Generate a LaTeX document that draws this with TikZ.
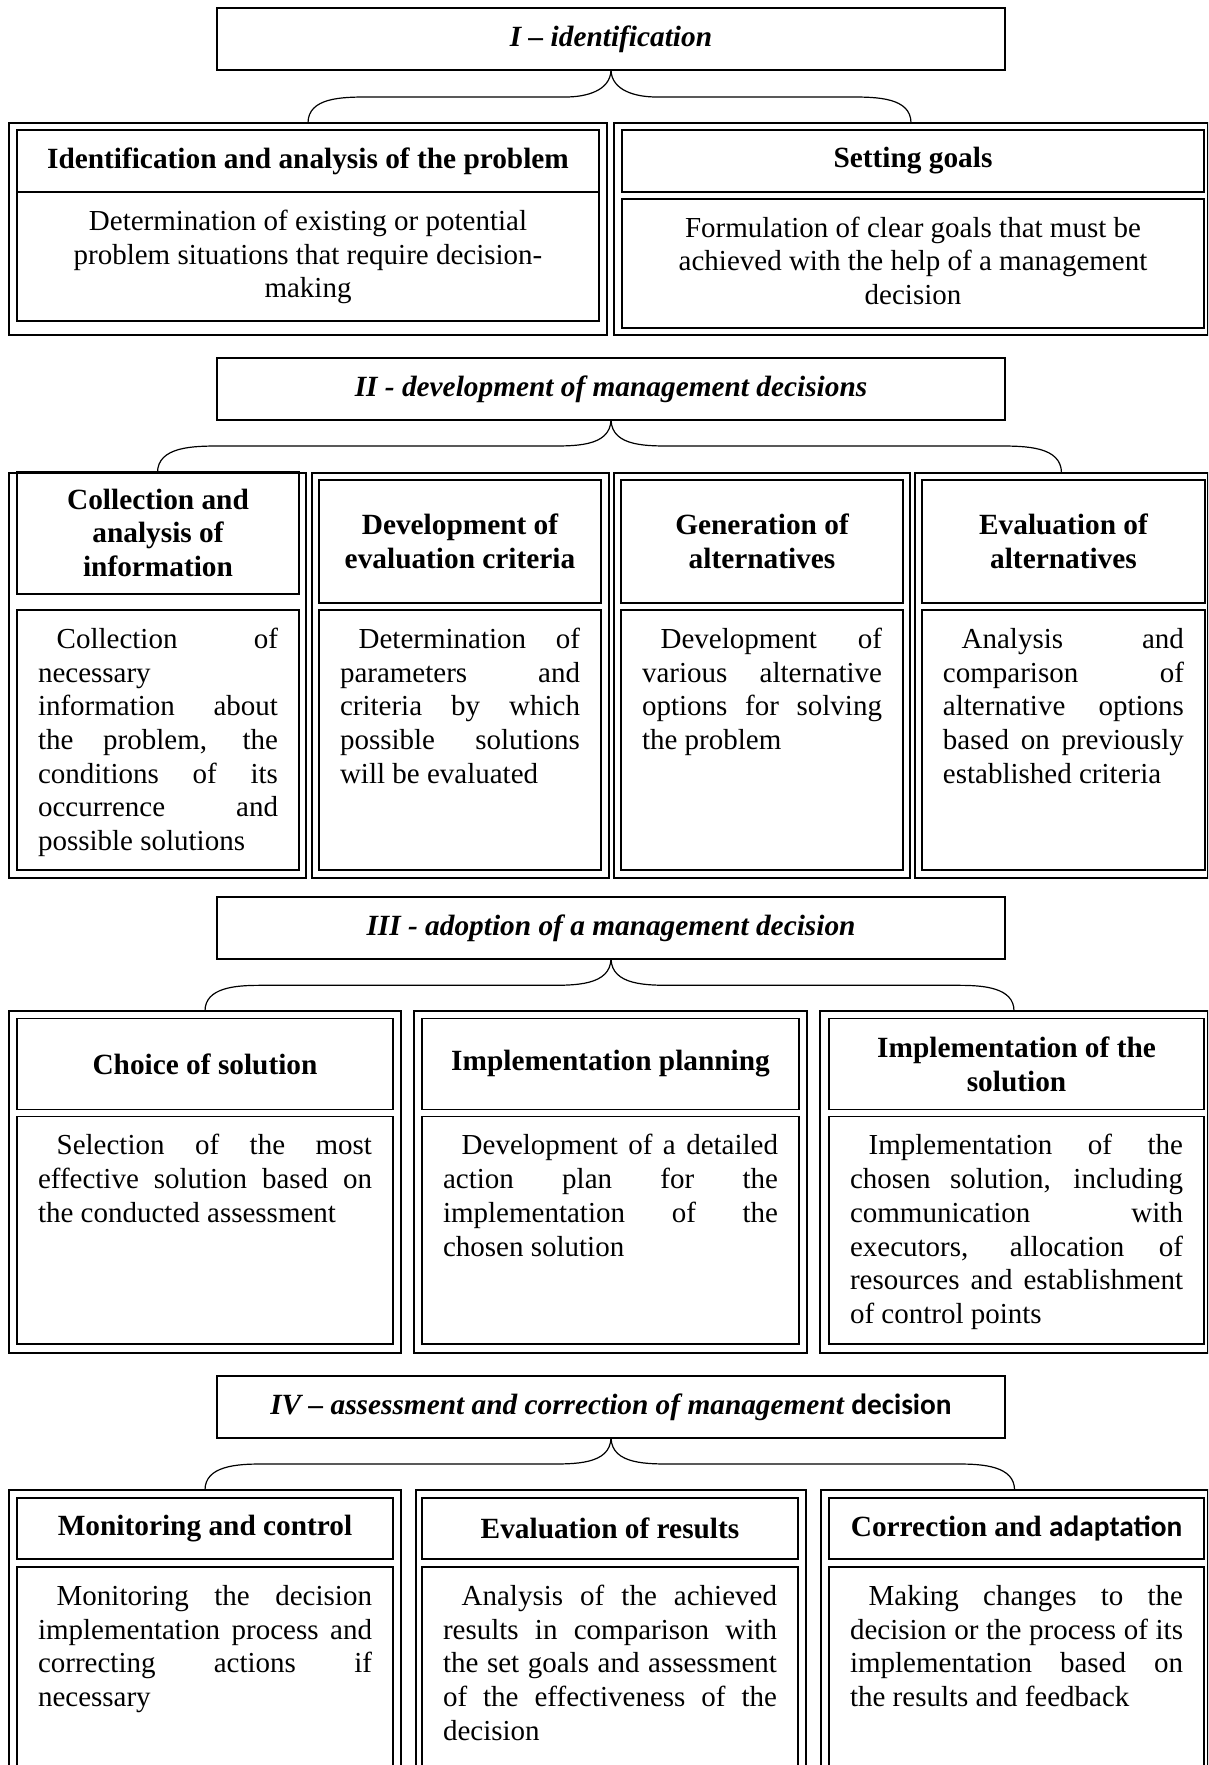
\documentclass[tikz,border=0pt]{standalone}
\usepackage{fontspec}
\setmainfont{Liberation Serif}
\newfontfamily\calibri{Carlito}
\usepackage{tikz}
\hbadness=10000
\hfuzz=3pt
\tikzstyle{Stage}=[draw,line width=1.1pt,outer sep=0pt,inner sep=0pt,
minimum width=591pt,minimum height=46.5pt,
font=\fontsize{22}{25.3}\selectfont\bfseries\itshape]
\tikzstyle{Frame}=[draw,line width=1.5pt,outer sep=0pt,inner sep=0pt]
\tikzstyle{Head}=[draw,line width=1.1pt,outer sep=0pt,inner sep=0pt,
align=center,font=\fontsize{22}{25.3}\selectfont\bfseries]
\tikzstyle{Body}=[draw,line width=1.1pt,outer sep=0pt,inner xsep=15.75pt,
inner ysep=11pt,font=\fontsize{21.75}{25.3}\selectfont]
\tikzstyle{Brace}=[draw,line width=0.9pt]
\newcommand{\Just}[3]{\parbox[c][#2][t]{#1}{\tolerance=10000
    \hyphenpenalty=10000\strut\hspace*{14pt}#3}}
\newcommand{\Cent}[3]{\parbox[c][#2][t]{#1}{\centering\strut #3}}

\begin{document}
\begin{tikzpicture}[x=1pt,y=-1pt]
        \useasboundingbox(0,0)rectangle(906,1323.75);
        \clip(0,0)rectangle(906,1323.75);
        \node[Stage](s1)at(458.25,29.4){I \textendash{} identification};
        \coordinate(k1)at(458.25,72.75);
        \node[Frame,minimum width=448.5pt,minimum height=159pt](f11)at(231,171.75){};
        \node[Frame,minimum width=445.5pt,minimum height=159pt](f12)at(683.25,171.75){};
        \node[Head,minimum width=436.5pt,minimum height=46.5pt](h11)at(231,120.75){Identification and analysis of the problem};
        \node[Body](b11)at(231,192.4){\Cent{405pt}{74.75pt}{Determination of existing or potential\\problem situations that require decision-\\making}};
        \node[Head,minimum width=436.5pt,minimum height=46.5pt](h12)at(684.75,120.75){Setting goals};
        \node[Body](b12)at(684.75,197.6){\Cent{405pt}{74.75pt}{Formulation of clear goals that must be\\achieved with the help of a management\\decision}};
        \draw[Brace](s1.south)to[out=-92,in=0]([xshift=-34pt]k1)--([xshift=45pt]k1-|f11.north)to[out=180,in=90](f11.north);
        \draw[Brace](s1.south)to[out=-88,in=180]([xshift=34pt]k1)--([xshift=-45pt]k1-|f12.north)to[out=0,in=90](f12.north);
        \node[Stage](s2)at(458.25,291.75){II - development of management decisions};
        \coordinate(k2)at(458.25,334.5);
        \node[Frame,minimum width=222.75pt,minimum height=303.75pt](f21)at(118.1,506.6){};
        \node[Frame,minimum width=222.75pt,minimum height=303.75pt](f22)at(345.4,506.6){};
        \node[Frame,minimum width=222pt,minimum height=303.75pt](f23)at(571.5,506.6){};
        \node[Frame,minimum width=219.75pt,minimum height=303.75pt](f24)at(796.1,506.6){};
        \node[Head,minimum width=211.5pt,minimum height=91.9pt](h21)at(118.5,399.6){Collection and\\analysis of\\information};
        \node[Head,minimum width=211.5pt,minimum height=92.25pt](h22)at(345,406.1){Development of\\evaluation criteria};
        \node[Head,minimum width=211.5pt,minimum height=92.25pt](h23)at(571.5,406.1){Generation of\\alternatives};
        \node[Head,minimum width=212.25pt,minimum height=92.25pt](h24)at(797.6,406.1){Evaluation of\\alternatives};
        \node[Body](b21)at(118.5,555){\Just{180pt}{173pt}{Collection of\linebreak necessary\linebreak information about\linebreak the problem, the\linebreak conditions of its\linebreak occurrence and\linebreak possible solutions}};
        \node[Body](b22)at(345,555){\Just{180pt}{173pt}{Determination of\linebreak parameters and\linebreak criteria by which\linebreak possible solutions\linebreak will be evaluated}};
        \node[Body](b23)at(571.5,555){\Just{180pt}{173pt}{Development of\linebreak various alternative\linebreak options for solving\linebreak the problem}};
        \node[Body](b24)at(797.6,555){\Just{180.75pt}{173pt}{Analysis and\linebreak comparison of\linebreak alternative options\linebreak based on previously\linebreak established criteria}};
        \draw[Brace](s2.south)to[out=-92,in=0]([xshift=-49pt]k2)--([xshift=47pt]k2-|f21.north)to[out=180,in=90](f21.north);
        \draw[Brace](s2.south)to[out=-88,in=180]([xshift=49pt]k2)--([xshift=-47pt]k2-|f24.north)to[out=0,in=90](f24.north);
        \node[Stage](s3)at(458.25,696){III - adoption of a management decision};
        \coordinate(k3)at(458.25,739);
        \node[Frame,minimum width=294pt,minimum height=256.5pt](f31)at(153.75,886.5){};
        \node[Frame,minimum width=294.75pt,minimum height=256.5pt](f32)at(457.9,886.5){};
        \node[Frame,minimum width=291pt,minimum height=256.5pt](f33)at(760.5,886.5){};
        \node[Head,minimum width=282pt,minimum height=68pt](h31)at(153.75,798){Choice of solution};
        \node[Head,minimum width=282.75pt,minimum height=68pt](h32)at(457.9,798){\strut Implementation planning};
        \node[Head,minimum width=281.25pt,minimum height=68pt](h33)at(762.4,798){Implementation of the\\solution};
        \node[Body](b31)at(153.75,922.7){\Just{250.5pt}{148.6pt}{Selection of the most\linebreak effective solution based on\linebreak the conducted assessment}};
        \node[Body](b32)at(457.9,922.7){\Just{251.25pt}{148.6pt}{Development of a detailed\linebreak action plan for the\linebreak implementation of the\linebreak chosen solution}};
        \node[Body](b33)at(762.4,922.7){\Just{249.75pt}{148.6pt}{Implementation of the\linebreak chosen solution, including\linebreak communication with\linebreak executors, allocation of\linebreak resources and establishment\linebreak of control points}};
        \draw[Brace](s3.south)to[out=-92,in=0]([xshift=-47pt]k3)--([xshift=41pt]k3-|f31.north)to[out=180,in=90](f31.north);
        \draw[Brace](s3.south)to[out=-88,in=180]([xshift=47pt]k3)--([xshift=-41pt]k3-|f33.north)to[out=0,in=90](f33.north);
        \node[Stage](s4)at(458.25,1055.25){IV \textendash{} assessment and correction of management {\calibri\upshape decision}};
        \coordinate(k4)at(458.25,1098);
        \node[Frame,minimum width=294pt,minimum height=222.5pt](f41)at(153.75,1228.75){};
        \node[Frame,minimum width=292.5pt,minimum height=222.5pt](f42)at(458.25,1228.75){};
        \node[Frame,minimum width=290.25pt,minimum height=222.5pt](f43)at(760.9,1228.75){};
        \node[Head,minimum width=282pt,minimum height=45.75pt](h41)at(153.75,1146.4){Monitoring and control};
        \node[Head,minimum width=282pt,minimum height=45.75pt](h42)at(457.5,1146.4){Evaluation of results};
        \node[Head,minimum width=281.25pt,minimum height=45.75pt](h43)at(762.4,1146.4){Correction and {\calibri adaptation}};
        \node[Body](b41)at(153.75,1254.6){\Just{250.5pt}{136.75pt}{Monitoring the decision\linebreak implementation process and\linebreak correcting actions if\linebreak necessary}};
        \node[Body](b42)at(457.5,1254.6){\Just{250.5pt}{136.75pt}{Analysis of the achieved\linebreak results in comparison with\linebreak the set goals and assessment\linebreak of the effectiveness of the\linebreak decision}};
        \node[Body](b43)at(762.4,1254.6){\Just{249.75pt}{136.75pt}{Making changes to the\linebreak decision or the process of its\linebreak implementation based on\linebreak the results and feedback}};
        \draw[Brace](s4.south)to[out=-92,in=0]([xshift=-48pt]k4)--([xshift=42pt]k4-|f41.north)to[out=180,in=90](f41.north);
        \draw[Brace](s4.south)to[out=-88,in=180]([xshift=48pt]k4)--([xshift=-42pt]k4-|f43.north)to[out=0,in=90](f43.north);
    \end{tikzpicture}
\end{document}
